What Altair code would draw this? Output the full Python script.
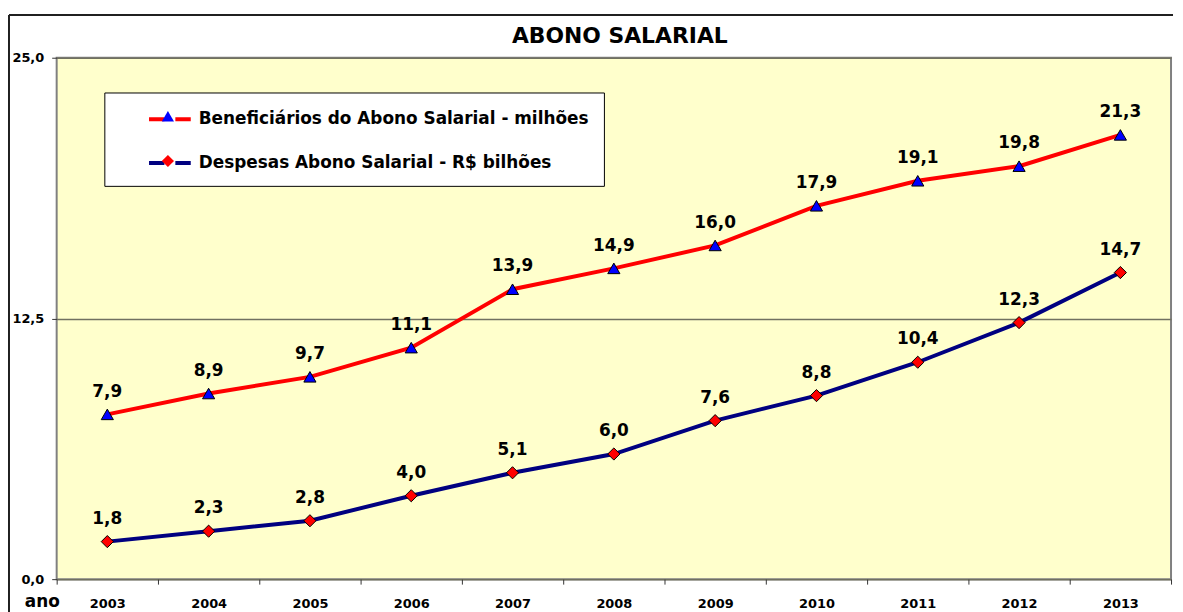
import altair as alt
import pandas as pd

anos = ["2003", "2004", "2005", "2006", "2007", "2008", "2009", "2010", "2011", "2012", "2013"]
beneficiarios = [7.9, 8.9, 9.7, 11.1, 13.9, 14.9, 16.0, 17.9, 19.1, 19.8, 21.3]
despesas = [1.8, 2.3, 2.8, 4.0, 5.1, 6.0, 7.6, 8.8, 10.4, 12.3, 14.7]
series = ["Beneficiários do Abono Salarial - milhões", "Despesas Abono Salarial - R$ bilhões"]
line_colors = ["#FF0000", "#000080"]
marker_fills = ["#0000FF", "#FF0000"]
marker_shapes = ["triangle-up", "diamond"]
y_ticks = [0, 12.5, 25]

rows = []
for a, v in zip(anos, beneficiarios):
    rows.append({"ano": a, "valor": v, "serie": series[0]})
for a, v in zip(anos, despesas):
    rows.append({"ano": a, "valor": v, "serie": series[1]})
df = pd.DataFrame(rows)

FONT = "DejaVu Sans"

x_enc = alt.X(
    "ano:O",
    scale=alt.Scale(type="band", paddingInner=0, paddingOuter=0),
    axis=alt.Axis(
        title="ano", titleX=-15, titleY=23, titleBaseline="middle", titleAlign="center",
        titleAngle=0, titleFontSize=17, titleFontWeight="bold", titleFont=FONT, titleColor="black",
        labelAngle=0, labelFontSize=13, labelFontWeight="bold", labelFont=FONT, labelColor="black",
        labelPadding=14, labelBaseline="top", tickBand="extent", tickSize=5, tickColor="#333333",
        domain=False, grid=False,
    ),
)
y_enc = alt.Y(
    "valor:Q",
    scale=alt.Scale(domain=[0, 25], nice=False, zero=True),
    axis=alt.Axis(
        values=y_ticks, title=None,
        labelExpr="replace(format(datum.value, '.1f'), '.', ',')",
        labelFontSize=13, labelFontWeight="bold", labelFont=FONT, labelColor="black",
        labelPadding=8, tickSize=5, tickColor="#333333", domain=False,
        grid=True, gridColor="#707060", gridWidth=1.5,
    ),
)

base = alt.Chart(df).encode(x=x_enc, y=y_enc)

leg_line = alt.Legend(
    title=None, orient="none", legendX=48, legendY=35, padding=15,
    fillColor="white", strokeColor="black", zindex=0,
    symbolType="M-2.1,0H-0.55M0.55,0H2.1", symbolSize=400, symbolStrokeWidth=4,
    symbolOffset=39, labelOffset=17, labelFont=FONT, labelFontSize=17,
    labelFontWeight="bold", labelColor="black", labelLimit=0, rowPadding=24,
    direction="vertical",
)
line = base.mark_line(strokeWidth=4).encode(
    stroke=alt.Stroke("serie:N", scale=alt.Scale(range=line_colors), legend=leg_line)
)

leg_pts = alt.Legend(
    title=None, orient="none", legendX=48, legendY=52, padding=0, zindex=1,
    symbolSize=150, symbolOffset=57, symbolStrokeColor="black", symbolStrokeWidth=1,
    symbolOpacity=1, labelExpr="''", labelFontSize=1, labelOffset=0, rowPadding=28,
    direction="vertical",
)
points = base.transform_calculate(marcador="datum.serie").mark_point(
    filled=True, opacity=1, stroke="black", strokeWidth=1, size=150
).encode(
    fill=alt.Fill("marcador:N", scale=alt.Scale(range=marker_fills), legend=leg_pts),
    shape=alt.Shape("marcador:N", scale=alt.Scale(range=marker_shapes), legend=leg_pts),
)

labels = base.transform_calculate(
    rotulo="replace(format(datum.valor, '.1f'), '.', ',')"
).mark_text(fontSize=17, fontWeight="bold", font=FONT, color="black", dy=-23, baseline="middle").encode(
    text="rotulo:N"
)

frame_df = pd.DataFrame({"k": [0]})
frame_left = alt.Chart(frame_df).mark_rule(color="#202020", strokeWidth=2).encode(
    x=alt.value(-48), y=alt.value(-43), y2=alt.value(620)
)
frame_top = alt.Chart(frame_df).mark_rule(color="#202020", strokeWidth=2).encode(
    x=alt.value(-48), x2=alt.value(1124), y=alt.value(-43)
)

chart = alt.layer(frame_left, frame_top, line, points, labels).properties(
    width=1122, height=525,
    padding={"left": 49, "top": 48, "right": 4, "bottom": 31},
    autosize=alt.AutoSizeParams(type="none"),
    title=alt.TitleParams("ABONO SALARIAL", font=FONT, fontSize=22, fontWeight="bold",
                          color="black", anchor="middle", frame="group", offset=0,
                          baseline="alphabetic", dy=51, dx=6),
).configure_view(fill="#FFFFCC", stroke="#808080", strokeWidth=2)

chart.save("out.html", embed_options={"renderer": "svg", "actions": False})
